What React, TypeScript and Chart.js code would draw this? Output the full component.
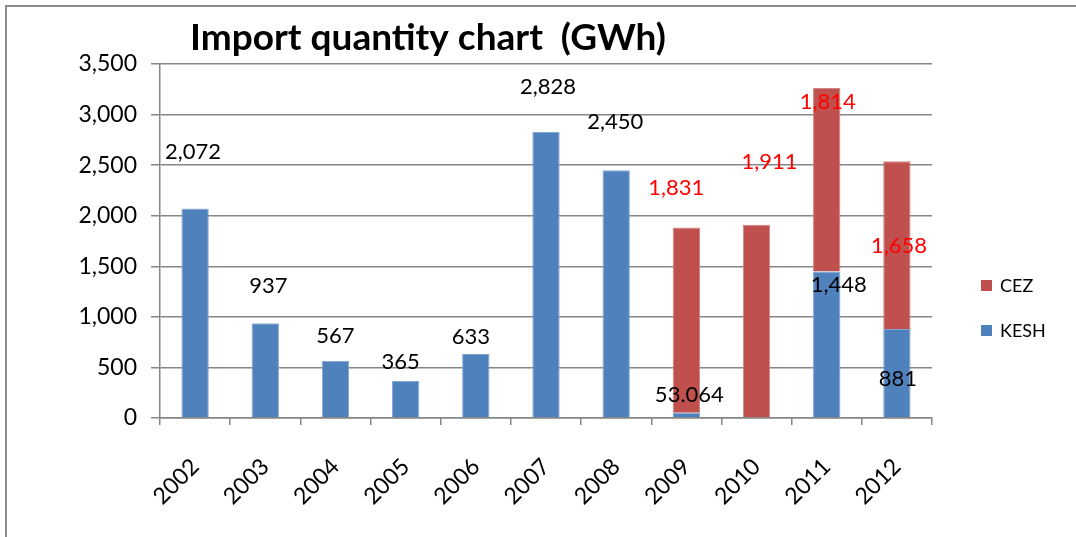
import React, { useEffect, useRef } from "react";
import { Chart, registerables } from "chart.js";

Chart.register(...registerables);

// ---- data ----
const years = ["2002", "2003", "2004", "2005", "2006", "2007", "2008", "2009", "2010", "2011", "2012"];
const keshValues: (number | null)[] = [2072, 937, 567, 365, 633, 2828, 2450, 53.064, null, 1448, 881];
const cezValues: (number | null)[] = [null, null, null, null, null, null, null, 1831, 1911, 1814, 1658];
const yMin = 0;
const yMax = 3500;
const yStep = 500;
const titleText = "Import quantity chart  (GWh)";
const seriesNames = ["KESH", "CEZ"];

// ---- styles ----
const BLUE = "#4F81BD";
const RED = "#C0504D";
const GRID = "#868686";
const FONT = "Lato, 'Open Sans', sans-serif";

// label offsets [dx, dy] in px relative to segment top / bar center
const keshLabelOffsets: [number, number][] = [
  [-2, -57], [3, -37], [0, -25], [-5, -19], [-5, -17], [2, -45], [-1, -48], [3, -18], [0, 0], [12, 13], [1, 50],
];
const cezLabelOffsets: [number, number][] = [
  [0, 0], [0, 0], [0, 0], [0, 0], [0, 0], [0, 0], [0, 0], [-10, -40], [13, -63], [1, 14], [2, 85],
];
const labelColors = ["#000000", "#FF0000"];

const fmt = (v: number) => v.toLocaleString("en-US", { maximumFractionDigits: 3 });

const overlayPlugin = {
  id: "overlay",
  afterDatasetsDraw(chart: any) {
    const ctx: CanvasRenderingContext2D = chart.ctx;
    ctx.save();
    // data labels
    ctx.font = `22px ${FONT}`;
    ctx.textAlign = "center";
    ctx.textBaseline = "middle";
    chart.data.datasets.forEach((ds: any, di: number) => {
      const meta = chart.getDatasetMeta(di);
      const offs = di === 0 ? keshLabelOffsets : cezLabelOffsets;
      ctx.fillStyle = labelColors[di];
      ds.data.forEach((v: number | null, i: number) => {
        if (v == null) return;
        const el = meta.data[i];
        const [dx, dy] = offs[i];
        ctx.fillText(fmt(v), el.x + dx, el.y + dy);
      });
    });
    // title
    ctx.fillStyle = "#000";
    ctx.font = `bold 37px ${FONT}`;
    ctx.textAlign = "left";
    ctx.textBaseline = "alphabetic";
    ctx.fillText(titleText, 190, 50);
    // legend (reversed order)
    ctx.font = `18px ${FONT}`;
    ctx.textBaseline = "middle";
    const items = [1, 0];
    items.forEach((di, k) => {
      const ds = chart.data.datasets[di];
      const cy = 286 + k * 45;
      ctx.fillStyle = ds.backgroundColor;
      ctx.fillRect(981, cy - 6, 11, 11);
      ctx.fillStyle = "#000";
      ctx.fillText(ds.label, 1000, cy);
    });
    ctx.restore();
  },
};

export default function App() {
  const ref = useRef<HTMLCanvasElement | null>(null);
  useEffect(() => {
    if (!ref.current) return;
    const chart = new Chart(ref.current, {
      type: "bar",
      data: {
        labels: years,
        datasets: [
          {
            label: seriesNames[0],
            data: keshValues,
            backgroundColor: BLUE,
            borderColor: "#86a6d2",
            borderWidth: { left: 1, right: 1, top: 1, bottom: 0 },
            barPercentage: 0.39,
            categoryPercentage: 1,
          },
          {
            label: seriesNames[1],
            data: cezValues,
            backgroundColor: RED,
            borderColor: "#d08684",
            borderWidth: { left: 1, right: 1, top: 1, bottom: 0 },
            barPercentage: 0.39,
            categoryPercentage: 1,
          },
        ],
      },
      options: {
        responsive: false,
        animation: false,
        devicePixelRatio: 1,
        layout: { padding: { left: 0, top: 64, right: 144, bottom: 0 } },
        plugins: {
          legend: { display: false },
          title: { display: false },
          tooltip: { enabled: false },
        },
        scales: {
          x: {
            stacked: true,
            grid: {
              display: true,
              drawOnChartArea: false,
              drawTicks: true,
              tickLength: 7,
              color: GRID,
              lineWidth: 1.5,
            },
            border: { display: true, color: GRID, width: 1.5 },
            ticks: {
              color: "#000",
              font: { family: FONT, size: 23 },
              minRotation: 45,
              maxRotation: 45,
              padding: 28,
            },
            afterFit: (scale: any) => {
              scale.height = 537 - 418;
            },
          },
          y: {
            stacked: true,
            min: yMin,
            max: yMax,
            ticks: {
              stepSize: yStep,
              color: "#000",
              font: { family: FONT, size: 23 },
              padding: 14,
              callback: (v: any) => Number(v).toLocaleString("en-US"),
            },
            grid: {
              color: GRID,
              lineWidth: 1.5,
              tickLength: 9,
              drawTicks: true,
            },
            border: { display: true, color: GRID, width: 1.5 },
            afterFit: (scale: any) => {
              scale.width = 160;
            },
          },
        },
      },
      plugins: [overlayPlugin],
    });
    return () => chart.destroy();
  }, []);

  return (
    <div style={{ position: "absolute", left: 0, top: 0, width: 1076, height: 537, overflow: "hidden", background: "#fff" }}>
      <div
        style={{
          position: "absolute",
          left: 5,
          top: 5,
          width: 1200,
          height: 700,
          borderLeft: "2px solid #8c8c8c",
          borderTop: "2px solid #8c8c8c",
        }}
      />
      <canvas ref={ref} width={1076} height={537} style={{ position: "absolute", left: 0, top: 0 }} />
    </div>
  );
}
